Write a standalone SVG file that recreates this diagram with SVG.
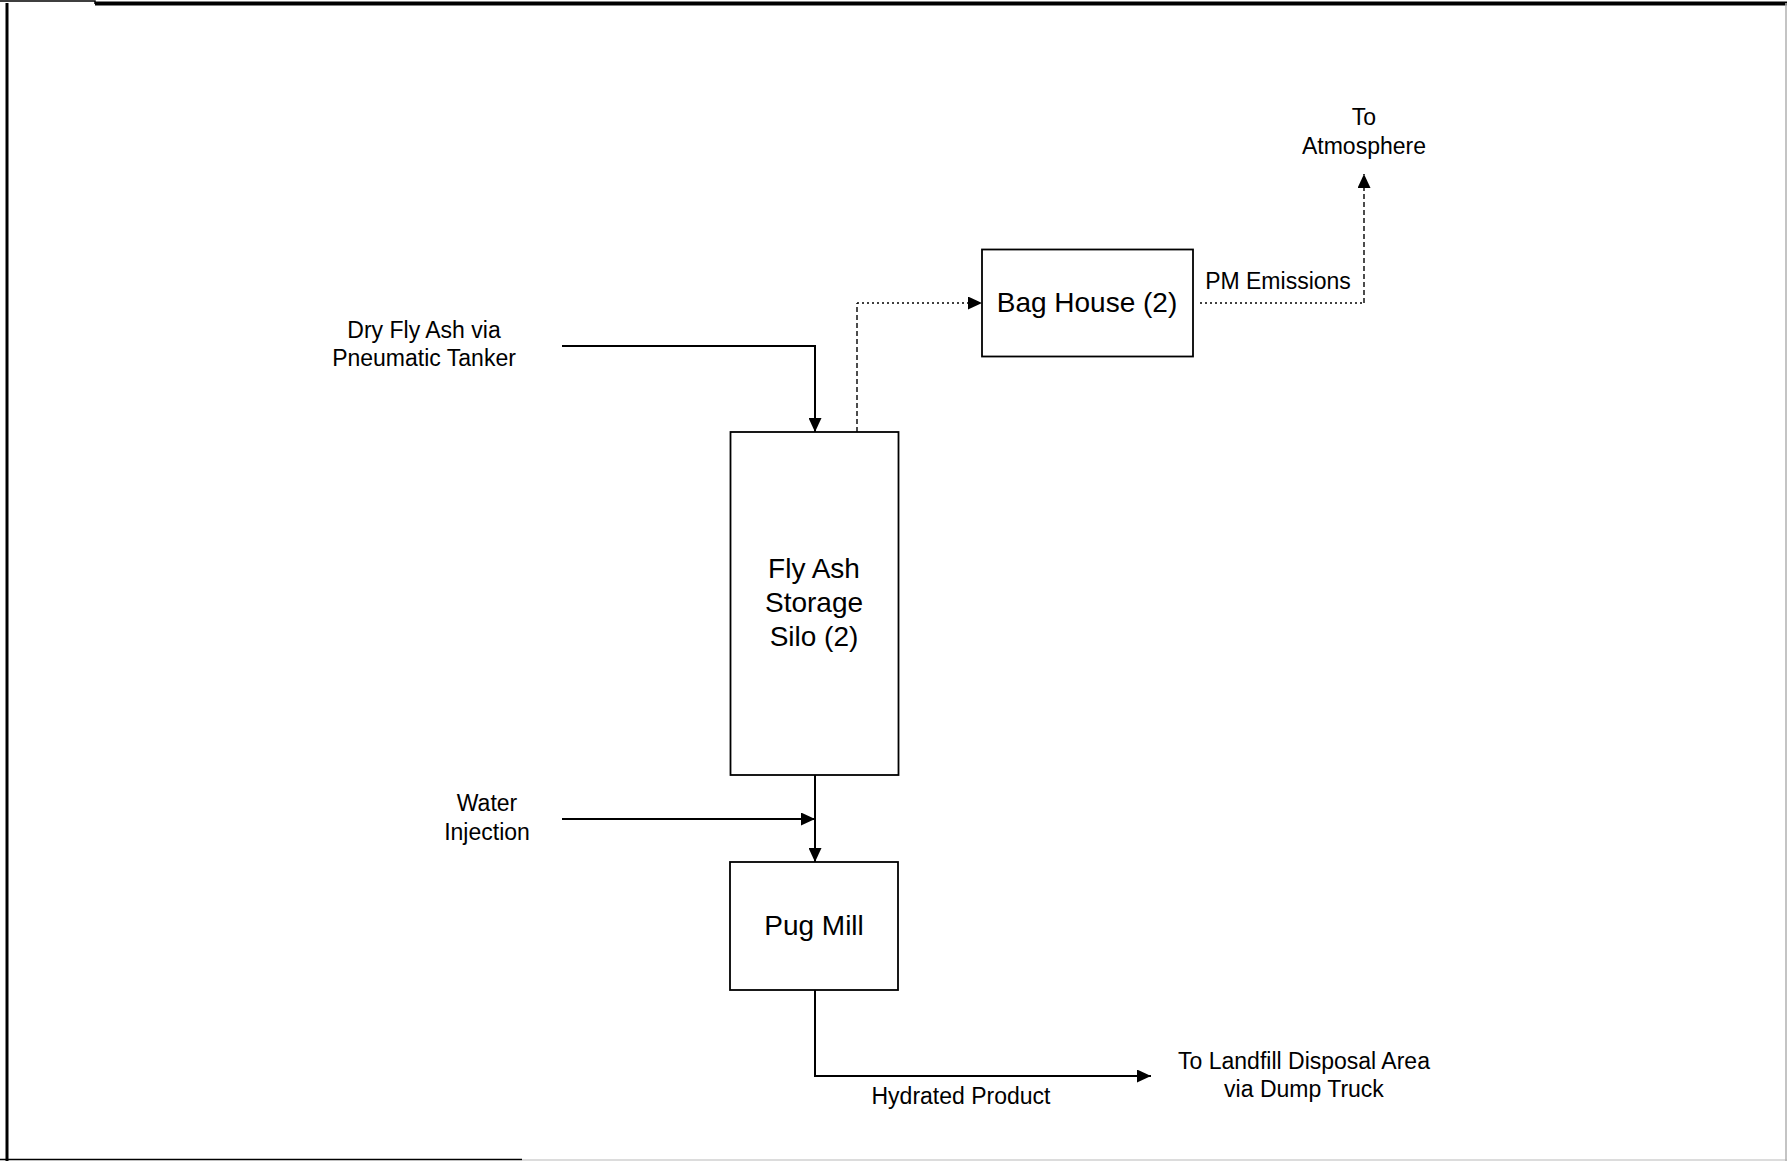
<svg xmlns="http://www.w3.org/2000/svg" width="1787" height="1161" viewBox="0 0 1787 1161">
  <style>
    .box { fill: #ffffff; stroke: #000000; stroke-width: 1.8; }
    .flow { fill: none; stroke: #000000; stroke-width: 2; }
    .dash { fill: none; stroke: #000000; stroke-width: 1.4; stroke-dasharray: 5 3; }
    .dot { fill: none; stroke: #000000; stroke-width: 1.4; stroke-dasharray: 2 3; }
    .big { font-family: "Liberation Sans", Arial, sans-serif; font-size: 28px; fill: #000; text-anchor: middle; }
    .lbl { font-family: "Liberation Sans", Arial, sans-serif; font-size: 23px; fill: #000; text-anchor: middle; }
    .frame { fill: none; stroke: #000; }
  </style>
  <defs>
    <marker id="arr" markerUnits="userSpaceOnUse" markerWidth="15" markerHeight="13" refX="14" refY="6.5" orient="auto">
      <path d="M0,0 L14,6.5 L0,13 Z" fill="#000"/>
    </marker>
  </defs>
  <rect x="0" y="0" width="1787" height="1161" fill="#ffffff"/>

  <g id="frame">
    <path class="frame" d="M0,1 H95 V4" stroke-width="1.5"/>
    <path class="frame" d="M95,3.5 H1787" stroke-width="4"/>
    <path class="frame" d="M7,3 V1161" stroke-width="3"/>
    <path class="frame" d="M0,1159.5 H522" stroke-width="1.5"/>
    <path d="M522,1160 H1787" fill="none" stroke="#d0d0d0" stroke-width="1.5"/>
    <path d="M1786,3 V1161" fill="none" stroke="#b0b0b0" stroke-width="1.5"/>
  </g>

  <g id="connectors">
    <path class="flow" d="M562,346 H815 V432" marker-end="url(#arr)"/>
    <path class="dash" d="M857,432 V303"/>
    <path class="dot" d="M857,303 H982" marker-end="url(#arr)"/>
    <path class="dot" d="M1200,303 H1364"/>
    <path class="dash" d="M1364,303 V174" marker-end="url(#arr)"/>
    <path class="flow" d="M815,775 V862" marker-end="url(#arr)"/>
    <path class="flow" d="M562,819 H815" marker-end="url(#arr)"/>
    <path class="flow" d="M815,990 V1076 H1151" marker-end="url(#arr)"/>
  </g>

  <g id="silo">
    <rect class="box" x="730.5" y="432" width="168" height="343"/>
    <text class="big" x="814" y="578">Fly Ash</text>
    <text class="big" x="814" y="612">Storage</text>
    <text class="big" x="814" y="646">Silo (2)</text>
  </g>

  <g id="baghouse">
    <rect class="box" x="982" y="249.5" width="211" height="107"/>
    <text class="big" x="1087" y="312">Bag House (2)</text>
  </g>

  <g id="pugmill">
    <rect class="box" x="730" y="862" width="168" height="128"/>
    <text class="big" x="814" y="935">Pug Mill</text>
  </g>

  <g id="labels">
    <text class="lbl" x="424" y="338">Dry Fly Ash via</text>
    <text class="lbl" x="424" y="366">Pneumatic Tanker</text>
    <text class="lbl" x="487" y="811">Water</text>
    <text class="lbl" x="487" y="840">Injection</text>
    <text class="lbl" x="1278" y="289">PM Emissions</text>
    <text class="lbl" x="1364" y="125">To</text>
    <text class="lbl" x="1364" y="154">Atmosphere</text>
    <text class="lbl" x="961" y="1104">Hydrated Product</text>
    <text class="lbl" x="1304" y="1069">To Landfill Disposal Area</text>
    <text class="lbl" x="1304" y="1097">via Dump Truck</text>
  </g>
</svg>
